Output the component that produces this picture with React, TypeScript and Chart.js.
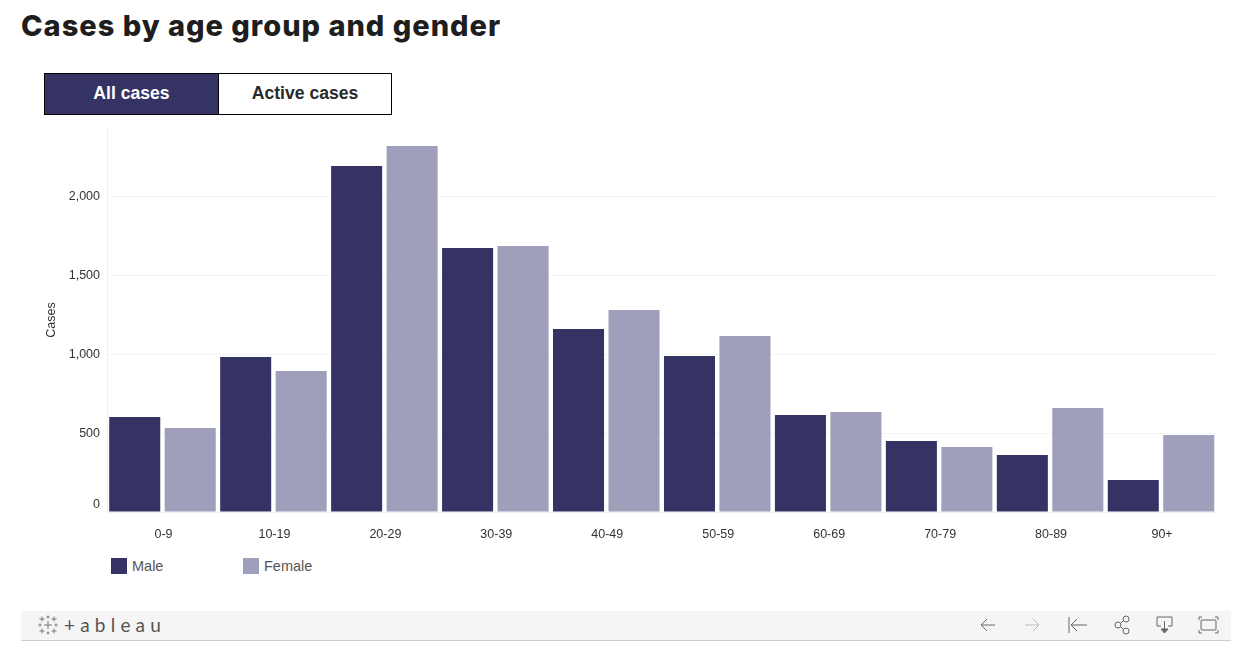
import React, { useEffect, useRef } from "react";
import { Chart, registerables } from "chart.js";

Chart.register(...registerables);

const categories = ["0-9", "10-19", "20-29", "30-39", "40-49", "50-59", "60-69", "70-79", "80-89", "90+"];
const maleCases = [603, 984, 2197, 1676, 1162, 990, 616, 451, 362, 203];
const femaleCases = [533, 895, 2324, 1689, 1283, 1117, 635, 413, 660, 489];
const seriesNames = ["Male", "Female"];
const seriesColors = ["#353364", "#9f9fbb"];
const tabLabels = ["All cases", "Active cases"];
const chartTitle = "Cases by age group and gender";
const yAxisTitle = "Cases";
const yTickValues = [0, 500, 1000, 1500, 2000];
const yMax = 2438;

const SANS = '"Liberation Sans", Arial, sans-serif';

function Plus({ x, y, r }: { x: number; y: number; r: number }) {
  return <path d={`M${x - r} ${y}H${x + r}M${x} ${y - r}V${y + r}`} />;
}

function Toolbar() {
  const ic = { position: "absolute" as const, top: 0, left: 0 };
  return (
    <div style={{ position: "absolute", left: 21, top: 611, width: 1210, height: 29, background: "#f5f5f5", borderBottom: "1px solid #cfcfcf" }}>
      <svg width={1210} height={29} style={ic} fill="none" stroke="#666" strokeWidth={1}>
        <g stroke="#777">
          <Plus x={27} y={14} r={4} />
          <Plus x={21} y={8} r={2.5} />
          <Plus x={33} y={8} r={2.5} />
          <Plus x={21} y={20} r={2.5} />
          <Plus x={33} y={20} r={2.5} />
          <Plus x={27} y={6} r={1.5} />
          <Plus x={27} y={22} r={1.5} />
          <Plus x={19} y={14} r={1.5} />
          <Plus x={35} y={14} r={1.5} />
        </g>
        <path d="M974 14H960M966 8L960 14L966 20" />
        <path stroke="#bbb" d="M1004 14H1018M1012 8L1018 14L1012 20" />
        <path d="M1048 6V22M1066 14H1050M1056 8L1050 14L1056 20" />
        <circle cx={1097} cy={14} r={3} />
        <circle cx={1105} cy={8} r={3} />
        <circle cx={1105} cy={20} r={3} />
        <path d="M1099.5 12.5L1102.5 9.5M1099.5 15.5L1102.5 18.5" />
        <path d="M1140 15H1136V6H1151V15H1147" />
        <path d="M1143.500 10V20" />
        <path d="M1140 18H1147L1143.500 22Z" fill="#666" />
        <rect x={1180} y={9} width={15} height={10} rx={1} />
        <path d="M1178 9V6H1181M1194 6H1197V9M1197 19V22H1194M1181 22H1178V19" />
      </svg>
      <div style={{ position: "absolute", left: 43, top: 2, fontFamily: "Lato, sans-serif", fontSize: 19, color: "#555", letterSpacing: 5.2, lineHeight: "24px", whiteSpace: "nowrap" }}>
        +ableau
      </div>
    </div>
  );
}

export default function App() {
  const ref = useRef<HTMLCanvasElement>(null);

  useEffect(() => {
    const chart = new Chart(ref.current!, {
      type: "bar",
      data: {
        labels: categories,
        datasets: [
          { label: seriesNames[0], data: maleCases, backgroundColor: seriesColors[0], categoryPercentage: 1, barPercentage: 0.92 },
          { label: seriesNames[1], data: femaleCases, backgroundColor: seriesColors[1], categoryPercentage: 1, barPercentage: 0.92 },
        ],
      },
      options: {
        animation: false,
        responsive: false,
        layout: { padding: { top: 128, right: 32.5, left: 0, bottom: 0 } },
        plugins: { legend: { display: false }, tooltip: { enabled: false } },
        scales: {
          x: {
            grid: { display: false, drawTicks: false },
            border: { color: "#f0f0f0" },
            ticks: { font: { family: SANS, size: 12.5 }, color: "#333", padding: 15, labelOffset: 1, maxRotation: 0, autoSkip: false },
            afterFit: (s: any) => { s.height = 38; },
          },
          y: {
            min: 0,
            max: yMax,
            grid: { color: "#f4f4f4", drawTicks: false },
            border: { color: "#f0f0f0" },
            title: { display: true, text: yAxisTitle, font: { family: SANS, size: 12.5 }, color: "#333", padding: { top: 44, bottom: 0 } },
            afterBuildTicks: (s: any) => { s.ticks = yTickValues.map((value) => ({ value })); },
            ticks: {
              font: { family: SANS, size: 12.5 },
              color: "#333",
              padding: 7,
              callback: (v: any) => (Number(v) === 0 ? ["0", ""] : Number(v).toLocaleString("en-US")),
            },
            afterFit: (s: any) => { s.width = 107; },
          },
        },
      },
    } as any);
    return () => chart.destroy();
  }, []);

  return (
    <div style={{ position: "absolute", left: 0, top: 0, width: 1249, height: 662, background: "#fff", overflow: "hidden" }}>
      <div style={{ position: "absolute", left: 21, top: 7, fontFamily: "Inter, sans-serif", fontWeight: 800, fontSize: 29, letterSpacing: 1, lineHeight: "38px", color: "#1e1e1e", whiteSpace: "nowrap" }}>
        {chartTitle}
      </div>
      {tabLabels.map((t, i) => (
        <div
          key={t}
          style={{
            position: "absolute",
            left: 44 + i * 174,
            top: 73,
            width: i === 0 ? 175 : 174,
            height: 42,
            boxSizing: "border-box",
            border: "1px solid #000",
            background: i === 0 ? seriesColors[0] : "#fff",
            color: i === 0 ? "#fff" : "#2a2a2a",
            fontFamily: SANS,
            fontWeight: 700,
            fontSize: 17.6,
            lineHeight: "38px",
            textAlign: "center",
          }}
        >
          {t}
        </div>
      ))}
      <canvas ref={ref} width={1249} height={550} style={{ position: "absolute", left: 0, top: 0, display: "block" }} />
      {seriesNames.map((n, i) => (
        <div key={n} style={{ position: "absolute", left: 111 + i * 132, top: 558, height: 16, whiteSpace: "nowrap" }}>
          <span style={{ position: "absolute", left: 0, top: 0, width: 16, height: 16, background: seriesColors[i] }} />
          <span style={{ position: "absolute", left: 21, top: -1, fontFamily: SANS, fontSize: 14.5, lineHeight: "18px", color: "#555" }}>{n}</span>
        </div>
      ))}
      <Toolbar />
    </div>
  );
}
